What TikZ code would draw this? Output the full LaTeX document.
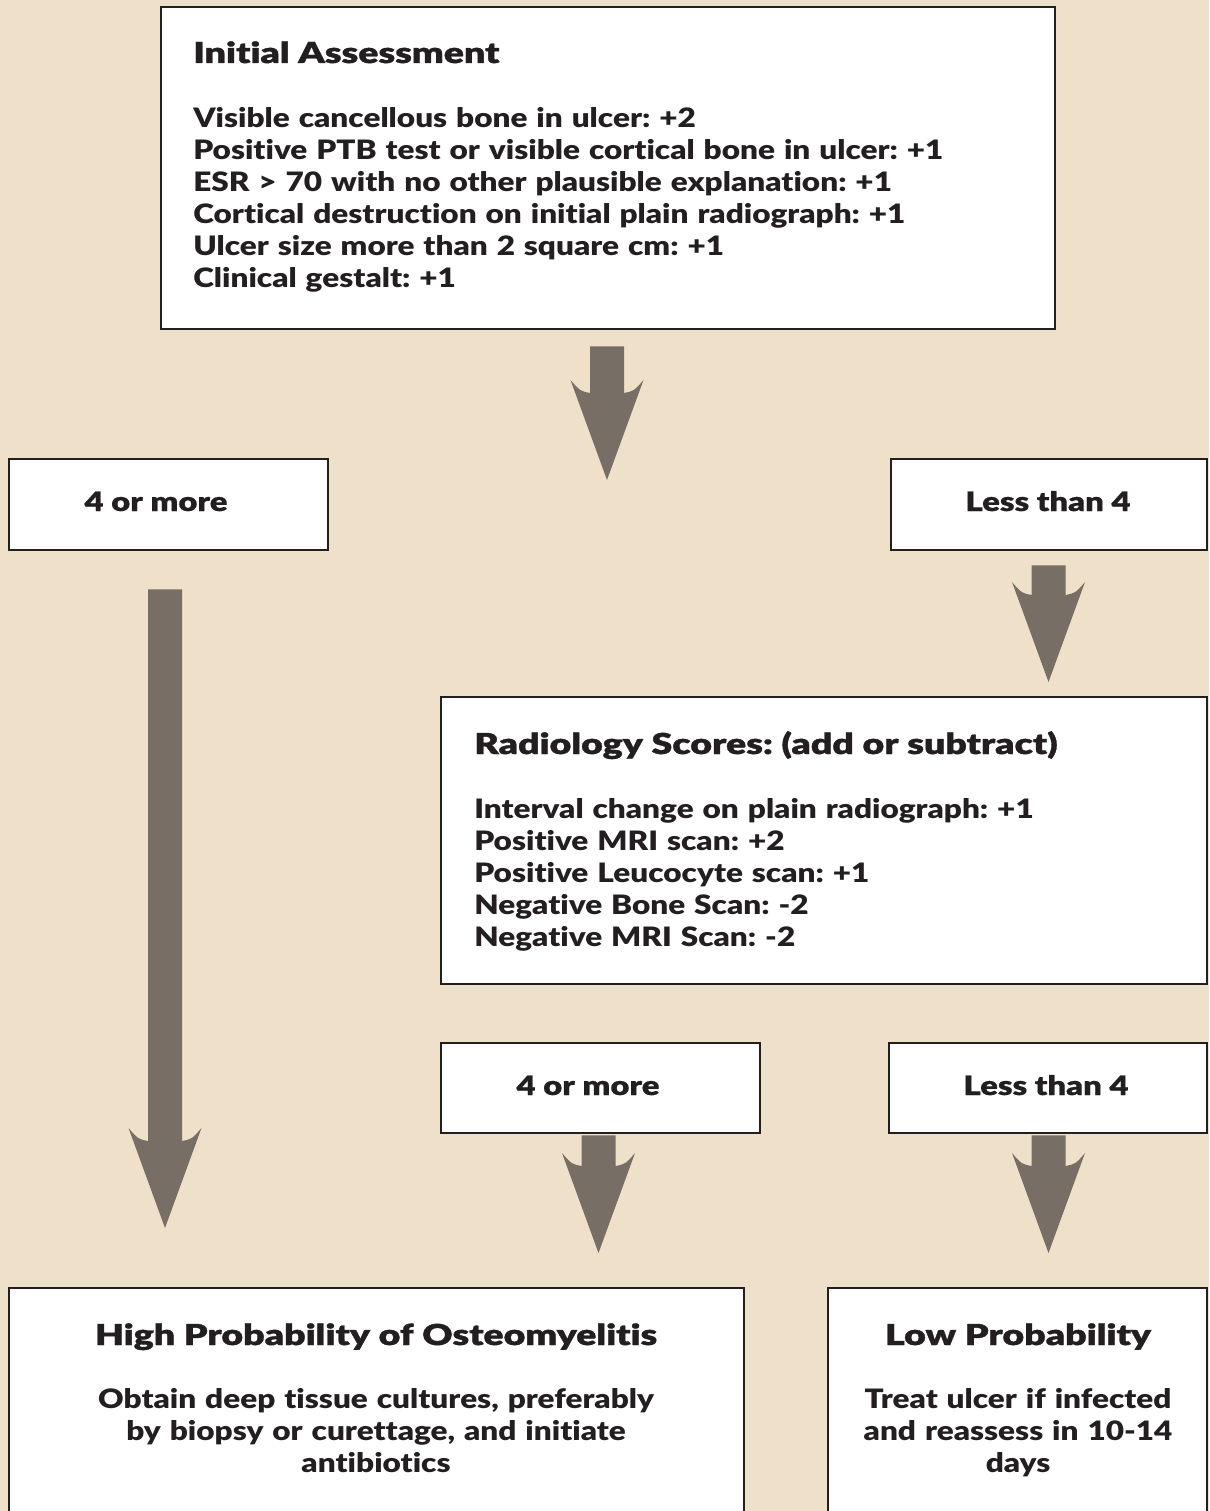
\documentclass[tikz,border=0pt]{standalone}
\usepackage{fontspec}
\setmainfont{Lato}
\newfontfamily\heavyfont{Lato Black}[FakeStretch=1.30,FakeBold=1.2,Ligatures=NoCommon]
\newfontfamily\boldfont{Lato Black}[FakeStretch=1.18,Ligatures=NoCommon]
\newfontfamily\labelfont{Lato Black}[FakeStretch=1.23,FakeBold=0.6,Ligatures=NoCommon]
\usetikzlibrary{calc}
\definecolor{bg}{HTML}{EFE0C9}
\definecolor{arrowc}{HTML}{776F66}
\definecolor{boxline}{HTML}{231F20}
\definecolor{txt}{HTML}{231F20}
\newcommand\bodyfnt{\boldfont\frenchspacing\fontsize{19pt}{22.76pt}\selectfont}
\newcommand\labelfnt{\labelfont\frenchspacing\fontsize{19pt}{22.76pt}\selectfont}
\newcommand\headfnt{\heavyfont\frenchspacing\fontsize{20.5pt}{24pt}\selectfont}
\newcommand\blockarrow[2]{%
  \fill[arrowc] ($(#1)+(-17,0)$) -- ($(#1)+(17,0)$) -- ($(#2)+(17,-87)$)
    .. controls ($(#2)+(27,-89)$) .. ($(#2)+(36.5,-100)$) -- (#2)
    -- ($(#2)+(-36.5,-100)$) .. controls ($(#2)+(-27,-89)$) .. ($(#2)+(-17,-87)$) -- cycle;}
\begin{document}
\begin{tikzpicture}[x=0.025cm,y=-0.025cm,
  box/.style={draw=boxline, line width=2pt, fill=white, rectangle, inner sep=0},
  bodytxt/.style={font=\bodyfnt, text=txt, inner sep=0, text width=#1},
  headtxt/.style={font=\headfnt, text=txt, inner sep=0},
  labeltxt/.style={font=\labelfnt, text=txt, inner sep=0, anchor=base}]
\fill[bg] (0,0) rectangle (1209,1511);
\useasboundingbox (0,0) rectangle (1209,1511);

% boxes
\node[box, minimum width=894*0.025cm, minimum height=322*0.025cm] (init) at (608,168) {};
\node[box, minimum width=319*0.025cm, minimum height=91*0.025cm] (gea) at (168.5,504.5) {};
\node[box, minimum width=316*0.025cm, minimum height=91*0.025cm] (lta) at (1049,504.5) {};
\node[box, minimum width=766*0.025cm, minimum height=287*0.025cm] (radio) at (824,840.5) {};
\node[box, minimum width=319*0.025cm, minimum height=90*0.025cm] (geb) at (600.5,1088) {};
\node[box, minimum width=318*0.025cm, minimum height=90*0.025cm] (ltb) at (1048,1088) {};
\node[box, minimum width=735*0.025cm, minimum height=252*0.025cm] (high) at (376.5,1414) {};
\node[box, minimum width=379*0.025cm, minimum height=252*0.025cm] (low) at (1017.5,1414) {};

% texts
\node[headtxt, anchor=base west] (initH) at (193,63) {Initial Assessment};
\node[bodytxt=850*0.025cm, align=left, anchor=base west] (initB) at (193,127.5) {Visible cancellous bone in ulcer: +2\\
Positive PTB test or visible cortical bone in ulcer: +1\\
ESR > 70 with no other plausible explanation: +1\\
Cortical destruction on initial plain radiograph: +1\\
Ulcer size more than 2 square cm: +1\\
Clinical gestalt: +1};

\node[labeltxt] (geaT) at (156,511) {4 or more};
\node[labeltxt] (ltaT) at (1048,511) {Less than 4};

\node[headtxt, anchor=base west] (radioH) at (474,754) {Radiology Scores: (add or subtract)};
\node[bodytxt=720*0.025cm, align=left, anchor=base west] (radioB) at (474,818) {Interval change on plain radiograph: +1\\
Positive MRI scan: +2\\
Positive Leucocyte scan: +1\\
Negative Bone Scan: -2\\
Negative MRI Scan: -2};

\node[labeltxt] (gebT) at (588,1095) {4 or more};
\node[labeltxt] (ltbT) at (1046,1095) {Less than 4};

\node[headtxt, anchor=base] (highH) at (376,1345) {High Probability of Osteomyelitis};
\node[bodytxt=720*0.025cm, align=center, anchor=base] (highB) at (376,1408) {Obtain deep tissue cultures, preferably\\
by biopsy or curettage, and initiate\\
antibiotics};
\node[headtxt, anchor=base] (lowH) at (1018,1345) {Low Probability};
\node[bodytxt=370*0.025cm, align=center, anchor=base] (lowB) at (1018,1408) {Treat ulcer if infected\\
and reassess in 10-14\\
days};

% arrows
\coordinate (a1s) at ($(init.south)+(-1,16)$);
\coordinate (a1e) at (607,480);
\blockarrow{a1s}{a1e}
\coordinate (a2s) at ($(gea.south)+(-3.5,38)$);
\coordinate (a2e) at (165,1228);
\blockarrow{a2s}{a2e}
\coordinate (a3s) at ($(lta.south)+(-0.5,14)$);
\coordinate (a3e) at (1048.5,682);
\blockarrow{a3s}{a3e}
\coordinate (a4s) at ($(geb.south)+(-2,1)$);
\coordinate (a4e) at (598.5,1253);
\blockarrow{a4s}{a4e}
\coordinate (a5s) at ($(ltb.south)+(0.5,1)$);
\coordinate (a5e) at (1048.5,1253);
\blockarrow{a5s}{a5e}
\end{tikzpicture}
\end{document}
